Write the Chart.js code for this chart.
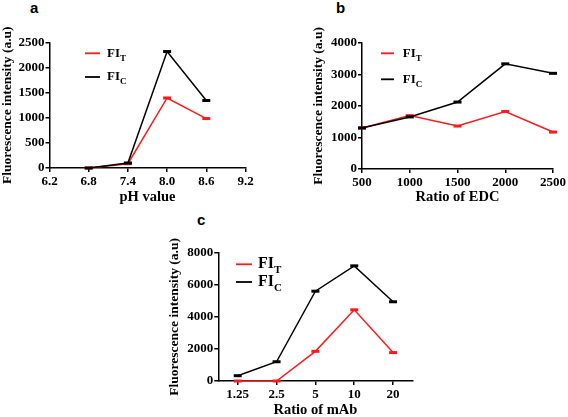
<!DOCTYPE html>
<html><head><meta charset="utf-8">
<script src="https://cdn.jsdelivr.net/npm/chart.js@4/dist/chart.umd.min.js"></script>
<style>
html,body{margin:0;padding:0;background:#fff;}
body{width:568px;height:417px;position:relative;overflow:hidden;}
.panel{position:absolute;}
.letter{position:absolute;font-family:"Liberation Sans",Arial,sans-serif;font-weight:bold;font-size:15px;line-height:1;color:#000;}
</style></head><body>
<div class="letter" style="left:30px;top:0px">a</div>
<div class="letter" style="left:336px;top:0px">b</div>
<div class="letter" style="left:197px;top:212px">c</div>
<div class="panel" style="left:0;top:0;width:260px;height:210px"><canvas id="ca"></canvas></div>
<div class="panel" style="left:290px;top:0;width:278px;height:210px"><canvas id="cb"></canvas></div>
<div class="panel" style="left:150px;top:210px;width:270px;height:207px"><canvas id="cc"></canvas></div>
<script>
// ---- data ----
const phValues = [6.8, 7.4, 8.0, 8.6];
const phFIT = [0, 85, 1395, 985];
const phFIC = [0, 100, 2320, 1345];

const edcRatios = [500, 1000, 1500, 2000, 2500];
const edcFIT = [1300, 1690, 1360, 1820, 1170];
const edcFIC = [1300, 1650, 2120, 3330, 3030];

const mabRatios = ['1.25', '2.5', '5', '10', '20'];
const mabFIT = [0, 0, 1850, 4440, 1770];
const mabFIC = [330, 1200, 5600, 7180, 4940];

const legendMain = 'FI';
const legendSubs = ['T', 'C'];
const yTitle = 'Fluorescence intensity (a.u)';
const xTitles = ['pH value', 'Ratio of EDC', 'Ratio of mAb'];

// ---- styling ----
const RED = '#ff1a1a', BLACK = '#000';
const SERIF = '"Liberation Serif","Times New Roman",serif';
const tickFont = {family: SERIF, weight: 'bold', size: 13};
const yTitleFont = {family: SERIF, weight: 'bold', size: 13.5, lineHeight: 1};
const xTitleFont = {family: SERIF, weight: 'bold', size: 14.5, lineHeight: 1};

const subLegend = {
  id: 'subLegend',
  afterDraw(chart, args, o) {
    const ctx = chart.ctx;
    ctx.save();
    chart.data.datasets.forEach((ds, i) => {
      const y = o.ys[i];
      ctx.strokeStyle = ds.borderColor; ctx.lineWidth = o.lineWidth;
      ctx.beginPath(); ctx.moveTo(o.x0, y); ctx.lineTo(o.x1, y); ctx.stroke();
      ctx.fillStyle = '#000'; ctx.textAlign = 'left'; ctx.textBaseline = 'middle';
      ctx.font = `bold ${o.size}px ${SERIF}`;
      ctx.fillText(ds.label, o.tx, y);
      const w = ctx.measureText(ds.label).width;
      ctx.font = `bold ${o.subSize}px ${SERIF}`;
      ctx.fillText(ds.subLabel, o.tx + w, y + o.size * 0.38);
    });
    ctx.restore();
  }
};

function ds(label, sub, data, color, order) {
  return {label, subLabel: sub, data, borderColor: color, backgroundColor: color,
    borderWidth: 1.5, tension: 0, pointStyle: 'line', pointRadius: 4, pointHoverRadius: 4,
    pointBorderWidth: 3, pointBorderColor: color, clip: false, order};
}
const plain = v => String(v);
function yScale(max, step, width) {
  return {min: 0, max,
    ticks: {stepSize: step, color: '#000', font: tickFont, padding: 1, callback: plain},
    grid: {drawOnChartArea: false, drawTicks: true, tickLength: 4, color: '#000', lineWidth: 1.5},
    border: {color: '#000', width: 1.5},
    title: {display: true, text: yTitle, color: '#000', font: yTitleFont, padding: 0},
    afterFit(s) { s.width = width; }};
}
function xCommon(title, height) {
  return {
    ticks: {color: '#000', font: tickFont, padding: 2, maxRotation: 0, autoSkip: false},
    grid: {drawOnChartArea: false, drawTicks: true, tickLength: 4, color: '#000', lineWidth: 1.5, offset: false},
    border: {color: '#000', width: 1.5},
    title: {display: true, text: title, color: '#000', font: xTitleFont, padding: 0},
    afterFit(s) { s.height = height; }};
}
function make(id, data, xScale, yS, padding, leg) {
  return new Chart(document.getElementById(id), {
    type: 'line', data,
    options: {responsive: true, maintainAspectRatio: false, animation: false,
      layout: {padding},
      plugins: {legend: {display: false}, tooltip: {enabled: false}, subLegend: leg},
      scales: {x: xScale, y: yS}},
    plugins: [subLegend]
  });
}
const xy = (xs, ys) => xs.map((x, i) => ({x, y: ys[i]}));

// Panel a
make('ca', {datasets: [
    ds(legendMain, legendSubs[0], xy(phValues, phFIT), RED, 1),
    ds(legendMain, legendSubs[1], xy(phValues, phFIC), BLACK, 0)]},
  Object.assign(xCommon(xTitles[0], 36.75), {type: 'linear', min: 6.2, max: 9.2,
    ticks: {color: '#000', font: tickFont, padding: 2, stepSize: 0.6, maxRotation: 0, callback: v => Number(v).toFixed(1)}}),
  yScale(2500, 500, 48.25),
  {left: 1.25, right: 14.5, top: 42.5, bottom: 5.25},
  {x0: 85, x1: 100, tx: 107, ys: [53.3, 77], lineWidth: 1.8, size: 13, subSize: 9});

// Panel b
make('cb', {datasets: [
    ds(legendMain, legendSubs[0], xy(edcRatios, edcFIT), RED, 1),
    ds(legendMain, legendSubs[1], xy(edcRatios, edcFIC), BLACK, 0)]},
  Object.assign(xCommon(xTitles[1], 35.75), {type: 'linear', min: 500, max: 2500,
    ticks: {color: '#000', font: tickFont, padding: 2, stepSize: 500, maxRotation: 0, callback: plain}}),
  yScale(4000, 1000, 50.45),
  {left: 21.55, right: 14, top: 42.7, bottom: 5.25},
  {x0: 91, x1: 104, tx: 112.7, ys: [53.3, 79.3], lineWidth: 1.8, size: 13, subSize: 9});

// Panel c
make('cc', {labels: mabRatios, datasets: [
    ds(legendMain, legendSubs[0], mabFIT, RED, 1),
    ds(legendMain, legendSubs[1], mabFIC, BLACK, 0)]},
  Object.assign(xCommon(xTitles[2], 36), {type: 'category', offset: true}),
  yScale(8000, 2000, 50.05),
  {left: 18.25, right: 7.5, top: 42.7, bottom: 0},
  {x0: 86, x1: 102, tx: 108, ys: [54.3, 72], lineWidth: 1.8, size: 16, subSize: 11});
</script>
</body></html>
